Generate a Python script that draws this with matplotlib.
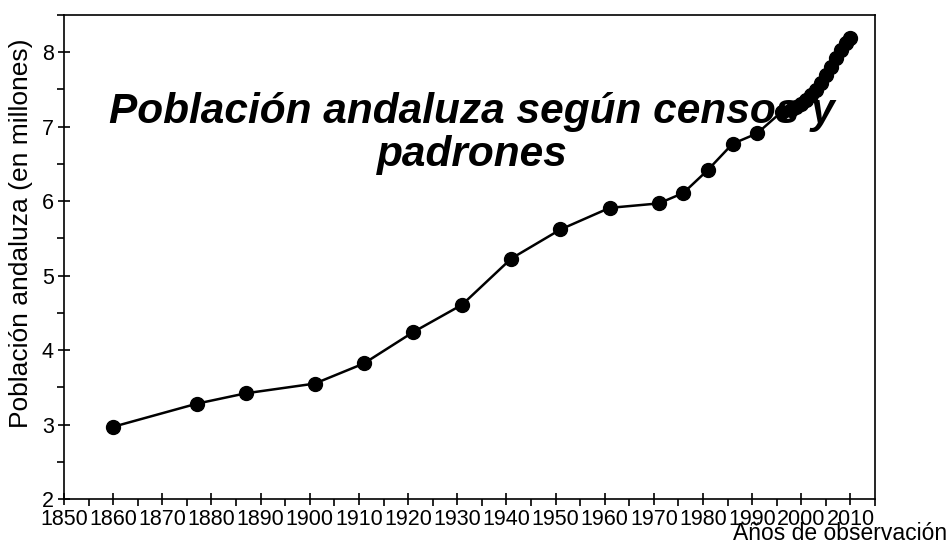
import matplotlib
matplotlib.use("Agg")
import matplotlib.pyplot as plt
from matplotlib.ticker import MultipleLocator

# Población andaluza (millones) por año de censo / padrón
years = [1860, 1877, 1887, 1901, 1911, 1921, 1931, 1941, 1951, 1961, 1971,
         1976, 1981, 1986, 1991, 1996, 1998, 1999, 2000, 2001, 2002, 2003,
         2004, 2005, 2006, 2007, 2008, 2009, 2010]
population = [2.97, 3.28, 3.42, 3.55, 3.82, 4.24, 4.61, 5.23, 5.62, 5.91, 5.97,
              6.11, 6.42, 6.77, 6.91, 7.20, 7.22, 7.27, 7.31, 7.36, 7.42, 7.49,
              7.59, 7.70, 7.80, 7.92, 8.03, 8.13, 8.19]

plt.rcParams["font.family"] = ["Liberation Sans", "DejaVu Sans"]

fig = plt.figure(figsize=(9.5, 5.5), dpi=100)
ax = fig.add_axes([0.0674, 0.0927, 0.8537, 0.88])

ax.plot(years, population, color="black", linewidth=1.8, marker="o",
        markersize=10, markerfacecolor="black", markeredgecolor="black")

ax.set_xlim(1850, 2015)
ax.set_ylim(2, 8.5)
ax.xaxis.set_major_locator(MultipleLocator(10))
ax.xaxis.set_minor_locator(MultipleLocator(5))
ax.yaxis.set_major_locator(MultipleLocator(1))
ax.yaxis.set_minor_locator(MultipleLocator(0.5))
ax.tick_params(which="major", direction="inout", length=9, width=1.2,
               labelsize=15.5, pad=3)
ax.tick_params(which="minor", direction="out", length=5, width=1.2)
for sp in ax.spines.values():
    sp.set_linewidth(1.2)

ax.text(0.503, 0.755, "Población andaluza según censos y\npadrones",
        transform=ax.transAxes, ha="center", va="center",
        fontsize=30.5, fontweight="bold", fontstyle="italic",
        linespacing=1.1)

ax.set_ylabel("Población andaluza (en millones)", fontsize=19, labelpad=0)
ax.yaxis.set_label_coords(-0.038, 0.55)
fig.text(0.997, 0.01, "Años de observación", ha="right", va="bottom",
         fontsize=16.5)

fig.savefig("out.png", dpi=100)
